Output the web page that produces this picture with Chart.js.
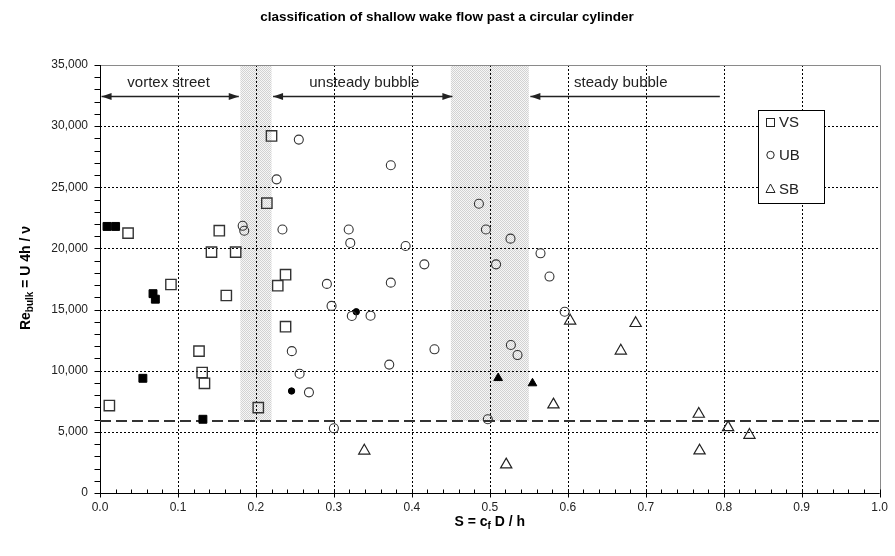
<!DOCTYPE html>
<html><head><meta charset="utf-8">
<script src="https://cdn.jsdelivr.net/npm/chart.js@4.4.1/dist/chart.umd.min.js"></script>
<style>html,body{margin:0;padding:0;background:#fff;}#wrap{width:895px;height:556px;}</style>
</head><body>
<div id="wrap"><canvas id="c" width="895" height="556"></canvas></div>
<script>
// ---- data (S = cf D / h , Re_bulk) ----
const vsOpenS  = [0.012, 0.036, 0.153, 0.143, 0.174, 0.220, 0.214, 0.091, 0.162, 0.127, 0.131, 0.134, 0.203, 0.228, 0.238, 0.238];
const vsOpenRe = [7150, 21250, 21450, 19700, 19700, 29200, 23700, 17050, 16150, 11600, 9850, 8970, 6980, 16950, 17850, 13600];
const vsFillS  = [0.009, 0.020, 0.068, 0.071, 0.055, 0.132];
const vsFillRe = [21800, 21800, 16300, 15850, 9380, 6030];
const ubOpenS  = [0.183, 0.185, 0.2265, 0.234, 0.255, 0.373, 0.486, 0.495, 0.5265, 0.565, 0.508, 0.5765, 0.319, 0.321, 0.392, 0.416, 0.291, 0.373, 0.297, 0.323, 0.347, 0.246, 0.429, 0.256, 0.371, 0.268, 0.300, 0.596, 0.527, 0.5355, 0.4974];
const ubOpenRe = [21850, 21450, 25650, 21550, 28900, 26800, 23650, 21550, 20800, 19600, 18700, 17700, 21550, 20450, 20200, 18700, 17100, 17200, 15300, 14480, 14500, 11600, 11750, 9750, 10500, 8230, 5290, 14820, 12100, 11280, 6030];
const ubFillS  = [0.3287, 0.2457];
const ubFillRe = [14820, 8340];
const sbOpenS  = [0.339, 0.603, 0.687, 0.668, 0.5816, 0.521, 0.768, 0.8056, 0.833, 0.769];
const sbOpenRe = [3450, 14080, 13880, 11630, 7230, 2320, 6460, 5370, 4740, 3460];
const sbFillS  = [0.5107, 0.5547];
const sbFillRe = [9400, 8970];

const legendLabels = ['VS', 'UB', 'SB'];
const regimeLabels = ['vortex street', 'unsteady bubble', 'steady bubble'];
const regimeLabelS = [0.088, 0.339, 0.668];
const regimeLabelRe = 33500;
const arrowFromS = [0.002, 0.222, 0.552];
const arrowToS   = [0.178, 0.452, 0.795];
const arrowHeadLeft  = [true, true, true];
const arrowHeadRight = [true, true, false];
const arrowRe = 32500;
const bandFromS = [0.18, 0.45];
const bandToS   = [0.22, 0.55];
const thresholdRe = 5900;
const xTicks = [0, 0.1, 0.2, 0.3, 0.4, 0.5, 0.6, 0.7, 0.8, 0.9, 1.0];
const yTicks = [0, 5000, 10000, 15000, 20000, 25000, 30000, 35000];

const pts = (xs, ys) => xs.map((x, i) => ({x: x, y: ys[i]}));
const FONT = '"Liberation Sans", Arial, sans-serif';

function stipple(ctx) {
  const c = document.createElement('canvas'); c.width = 2; c.height = 2;
  const g = c.getContext('2d');
  g.fillStyle = '#f6f6f6'; g.fillRect(0, 0, 2, 2);
  g.fillStyle = '#d2d2d2'; g.fillRect(0, 0, 1, 1); g.fillRect(1, 1, 1, 1);
  return ctx.createPattern(c, 'repeat');
}

const decor = {
  id: 'decor',
  beforeDatasetsDraw(chart) {
    const ctx = chart.ctx, xs = chart.scales.x, ys = chart.scales.y, a = chart.chartArea;
    const X = v => xs.getPixelForValue(v), Y = v => ys.getPixelForValue(v);
    ctx.save();
    // bands
    ctx.fillStyle = stipple(ctx);
    for (let i = 0; i < bandFromS.length; i++) {
      ctx.fillRect(X(bandFromS[i]), a.top, X(bandToS[i]) - X(bandFromS[i]), Y(thresholdRe) - a.top);
    }
    // grid
    ctx.strokeStyle = '#000'; ctx.lineWidth = 1; ctx.setLineDash([2, 2]);
    ctx.beginPath();
    xTicks.forEach(v => { if (v > 0 && v < 1) { const p = Math.round(X(v)) + 0.5; ctx.moveTo(p, a.top); ctx.lineTo(p, a.bottom); } });
    yTicks.forEach(v => { if (v > 0 && v < 35000) { const p = Math.round(Y(v)) + 0.5; ctx.moveTo(a.left, p); ctx.lineTo(a.right, p); } });
    ctx.stroke();
    ctx.setLineDash([]);
    // frame top/right
    ctx.strokeStyle = '#8a8a8a';
    ctx.beginPath();
    ctx.moveTo(a.left, Math.round(a.top) + 0.5); ctx.lineTo(Math.round(a.right) + 0.5, Math.round(a.top) + 0.5);
    ctx.lineTo(Math.round(a.right) + 0.5, a.bottom);
    ctx.stroke();
    // axes
    ctx.strokeStyle = '#000';
    ctx.beginPath();
    const L = Math.round(a.left) + 0.5, B = Math.round(a.bottom) + 0.5;
    ctx.moveTo(L, a.top); ctx.lineTo(L, B); ctx.lineTo(a.right, B);
    for (let v = 0; v <= 35000; v += 1000) { const p = Math.round(Y(v)) + 0.5; ctx.moveTo(L - 6, p); ctx.lineTo(L, p); }
    for (let k = 0; k <= 50; k++) {
      const p = Math.round(X(k / 50)) + 0.5;
      if (k % 5 === 0) { ctx.moveTo(p, B - 4); ctx.lineTo(p, B + 4); }
      else { ctx.moveTo(p, B - 4); ctx.lineTo(p, B); }
    }
    ctx.stroke();
    // threshold line
    ctx.strokeStyle = '#333'; ctx.lineWidth = 2; ctx.setLineDash([11, 5]);
    ctx.beginPath();
    const ty = Math.round(Y(thresholdRe));
    ctx.moveTo(a.left, ty); ctx.lineTo(a.right, ty); ctx.stroke();
    ctx.setLineDash([]);
    // arrows
    ctx.strokeStyle = '#222'; ctx.fillStyle = '#222'; ctx.lineWidth = 1.5;
    const ay = Math.round(Y(arrowRe)) + 0.5;
    for (let i = 0; i < arrowFromS.length; i++) {
      const x1 = X(arrowFromS[i]), x2 = X(arrowToS[i]);
      ctx.beginPath(); ctx.moveTo(x1, ay); ctx.lineTo(x2, ay); ctx.stroke();
      if (arrowHeadLeft[i]) { ctx.beginPath(); ctx.moveTo(x1, ay); ctx.lineTo(x1 + 10, ay - 3.5); ctx.lineTo(x1 + 10, ay + 3.5); ctx.closePath(); ctx.fill(); }
      if (arrowHeadRight[i]) { ctx.beginPath(); ctx.moveTo(x2, ay); ctx.lineTo(x2 - 10, ay - 3.5); ctx.lineTo(x2 - 10, ay + 3.5); ctx.closePath(); ctx.fill(); }
    }
    // regime labels
    ctx.fillStyle = '#222'; ctx.font = '15px ' + FONT; ctx.textAlign = 'center'; ctx.textBaseline = 'middle';
    regimeLabels.forEach((t, i) => ctx.fillText(t, X(regimeLabelS[i]), Y(regimeLabelRe)));
    ctx.restore();
  },
  afterDraw(chart) {
    const ctx = chart.ctx, a = chart.chartArea;
    ctx.save();
    // title
    ctx.fillStyle = '#000'; ctx.textAlign = 'center'; ctx.textBaseline = 'middle';
    ctx.font = 'bold 13.5px ' + FONT;
    ctx.fillText('classification of shallow wake flow past a circular cylinder', 447, 17);
    // x title
    ctx.textAlign = 'left'; ctx.textBaseline = 'alphabetic';
    const big = 'bold 14px ' + FONT, sm = 'bold 10px ' + FONT;
    ctx.font = big; const xa = ctx.measureText('S = c').width, xc = ctx.measureText(' D / h').width;
    ctx.font = sm; const xb = ctx.measureText('f').width;
    let x0 = (a.left + a.right) / 2 - (xa + xb + xc) / 2; const by = 526;
    ctx.font = big; ctx.fillText('S = c', x0, by);
    ctx.font = sm; ctx.fillText('f', x0 + xa, by + 3);
    ctx.font = big; ctx.fillText(' D / h', x0 + xa + xb, by);
    // y title
    ctx.save();
    ctx.translate(25, 278); ctx.rotate(-Math.PI / 2);
    ctx.font = big; const ya = ctx.measureText('Re').width, yc = ctx.measureText(' = U 4h / \u03BD').width;
    ctx.font = sm; const yb = ctx.measureText('bulk').width;
    let y0 = -(ya + yb + yc) / 2;
    ctx.font = big; ctx.fillText('Re', y0, 5);
    ctx.font = sm; ctx.fillText('bulk', y0 + ya, 8);
    ctx.font = big; ctx.fillText(' = U 4h / \u03BD', y0 + ya + yb, 5);
    ctx.restore();
    // legend
    ctx.fillStyle = '#fff'; ctx.fillRect(758.5, 110.5, 66, 93);
    ctx.strokeStyle = '#000'; ctx.lineWidth = 1; ctx.strokeRect(758.5, 110.5, 66, 93);
    const rows = [122, 155, 188.5];
    ctx.strokeStyle = '#222';
    ctx.strokeRect(766.5, 118.5, 8, 8);
    ctx.beginPath(); ctx.arc(770.5, rows[1], 3.7, 0, Math.PI * 2); ctx.stroke();
    ctx.beginPath(); ctx.moveTo(770.5, rows[2] - 4.5); ctx.lineTo(775, rows[2] + 4); ctx.lineTo(766, rows[2] + 4); ctx.closePath(); ctx.stroke();
    ctx.fillStyle = '#222'; ctx.font = '15px ' + FONT; ctx.textBaseline = 'middle'; ctx.textAlign = 'left';
    legendLabels.forEach((t, i) => ctx.fillText(t, 779, rows[i] + 1));
    ctx.restore();
  }
};

const open = 'rgba(0,0,0,0)';
new Chart(document.getElementById('c'), {
  type: 'scatter',
  data: {
    datasets: [
      {label: 'VS', data: pts(vsOpenS, vsOpenRe), pointStyle: 'rect', pointRadius: 7.3, backgroundColor: open, borderColor: '#333', borderWidth: 1.4},
      {label: 'VS filled', data: pts(vsFillS, vsFillRe), pointStyle: 'rect', pointRadius: 5.6, backgroundColor: '#000', borderColor: '#000', borderWidth: 1},
      {label: 'UB', data: pts(ubOpenS, ubOpenRe), pointStyle: 'circle', pointRadius: 4.5, backgroundColor: open, borderColor: '#333', borderWidth: 1.1},
      {label: 'UB filled', data: pts(ubFillS, ubFillRe), pointStyle: 'circle', pointRadius: 3.2, backgroundColor: '#000', borderColor: '#000', borderWidth: 1},
      {label: 'SB', data: pts(sbOpenS, sbOpenRe), pointStyle: 'triangle', pointRadius: 6.5, backgroundColor: open, borderColor: '#222', borderWidth: 1.2},
      {label: 'SB filled', data: pts(sbFillS, sbFillRe), pointStyle: 'triangle', pointRadius: 5, backgroundColor: '#000', borderColor: '#000', borderWidth: 1}
    ]
  },
  options: {
    responsive: false, animation: false,
    layout: {padding: {left: 0, right: 13, top: 65, bottom: 0}},
    plugins: {legend: {display: false}, title: {display: false}, tooltip: {enabled: false}},
    scales: {
      x: {type: 'linear', min: 0, max: 1,
          afterFit: s => { s.height = 63; },
          afterBuildTicks: s => { s.ticks = xTicks.map(v => ({value: v})); },
          grid: {display: false, drawTicks: false}, border: {display: false},
          ticks: {padding: 7, color: '#222', font: {family: FONT, size: 12}, callback: v => Number(v).toFixed(1)}},
      y: {type: 'linear', min: 0, max: 35000,
          afterFit: s => { s.width = 100; },
          afterBuildTicks: s => { s.ticks = yTicks.map(v => ({value: v})); },
          grid: {display: false, drawTicks: false}, border: {display: false},
          ticks: {padding: 12, color: '#222', font: {family: FONT, size: 12}, callback: v => Number(v).toLocaleString('en-US')}}
    }
  },
  plugins: [decor]
});
</script>
</body></html>
